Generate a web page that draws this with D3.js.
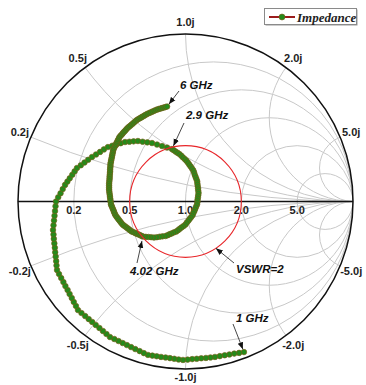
<!DOCTYPE html>
<html>
<head>
<meta charset="utf-8">
<script src="https://cdn.jsdelivr.net/npm/d3@7"></script>
<style>
  body { margin: 0; background: #fff; }
  svg { display: block; }
</style>
</head>
<body>
<div id="plot"></div>
<script>
// measured reflection coefficient, 1 GHz .. 6 GHz in 0.02 GHz steps
const startGHz = 1;
const stepGHz = 0.02;

const gammaRe = [
  0.349, 0.320, 0.291, 0.262, 0.234, 0.205, 0.176,
  0.149, 0.122, 0.094, 0.067, 0.040, 0.013, -0.015,
  -0.041, -0.067, -0.093, -0.119, -0.146, -0.172, -0.198, -0.224,
  -0.249, -0.274, -0.300, -0.325, -0.350, -0.375, -0.400, -0.425, -0.451,
  -0.472, -0.493, -0.514, -0.536, -0.557, -0.578, -0.599, -0.621, -0.642,
  -0.654, -0.667, -0.679, -0.692, -0.704, -0.717, -0.729, -0.742, -0.755, -0.767,
  -0.770, -0.772, -0.775, -0.778, -0.780, -0.783, -0.786, -0.788, -0.791,
  -0.788, -0.785, -0.782, -0.779, -0.776, -0.773,
  -0.760, -0.746, -0.733, -0.719,
  -0.705, -0.691, -0.676, -0.662, -0.648,
  -0.625, -0.603, -0.581, -0.558,
  -0.534, -0.510, -0.487, -0.463,
  -0.437, -0.412, -0.387, -0.361,
  -0.335, -0.310, -0.284,
  -0.256, -0.228, -0.200,
  -0.170, -0.140,
  -0.110, -0.081,
  -0.070, -0.059, -0.048, -0.037,
  -0.026, -0.016, -0.005, 0.005,
  0.014, 0.022, 0.030, 0.038, 0.046,
  0.051, 0.055, 0.060, 0.065, 0.070,
  0.071, 0.073, 0.075, 0.076, 0.078,
  0.076, 0.074, 0.072, 0.071, 0.069,
  0.063, 0.058, 0.053, 0.047, 0.042,
  0.034, 0.025, 0.017, 0.008, 0.000,
  -0.011, -0.022, -0.033, -0.044, -0.055,
  -0.068, -0.081, -0.094, -0.106, -0.119,
  -0.137, -0.154, -0.171, -0.188,
  -0.205, -0.221, -0.237, -0.254,
  -0.263, -0.273, -0.282, -0.292, -0.301, -0.311, -0.321,
  -0.329, -0.336, -0.344, -0.352, -0.360, -0.368, -0.376,
  -0.383, -0.390, -0.397, -0.404, -0.411, -0.418,
  -0.422, -0.426, -0.429, -0.433, -0.437, -0.441, -0.445,
  -0.446, -0.448, -0.449, -0.451, -0.452, -0.454,
  -0.455, -0.456, -0.456, -0.456, -0.456, -0.455, -0.454,
  -0.453, -0.453, -0.452, -0.451, -0.450, -0.450, -0.449, -0.448, -0.448,
  -0.446, -0.444, -0.442, -0.440, -0.438, -0.436, -0.434, -0.432, -0.430,
  -0.425, -0.421, -0.416, -0.412, -0.407, -0.403, -0.398, -0.394,
  -0.387, -0.380, -0.374, -0.367, -0.360, -0.353, -0.346,
  -0.338, -0.330, -0.322, -0.314, -0.306, -0.298, -0.290,
  -0.281, -0.273, -0.264, -0.256, -0.247, -0.239, -0.230,
  -0.220, -0.210, -0.200, -0.190, -0.180, -0.170,
  -0.160, -0.150, -0.140, -0.130, -0.120, -0.110
];

const gammaIm = [
  -0.899, -0.904, -0.908, -0.913, -0.918, -0.923, -0.928,
  -0.931, -0.934, -0.936, -0.939, -0.941, -0.944, -0.946,
  -0.943, -0.939, -0.935, -0.931, -0.928, -0.924, -0.920, -0.916,
  -0.905, -0.893, -0.881, -0.869, -0.857, -0.845, -0.833, -0.821, -0.809,
  -0.791, -0.773, -0.755, -0.737, -0.719, -0.702, -0.684, -0.666, -0.648,
  -0.624, -0.600, -0.576, -0.552, -0.528, -0.505, -0.481, -0.457, -0.433, -0.409,
  -0.382, -0.356, -0.329, -0.303, -0.276, -0.250, -0.223, -0.197, -0.170,
  -0.142, -0.113, -0.085, -0.057, -0.028, 0.000,
  0.025, 0.049, 0.074, 0.099,
  0.119, 0.139, 0.159, 0.180, 0.200,
  0.216, 0.233, 0.249, 0.266,
  0.281, 0.296, 0.311, 0.325,
  0.333, 0.340, 0.348, 0.355,
  0.357, 0.359, 0.361,
  0.357, 0.353, 0.349,
  0.340, 0.331,
  0.322, 0.313,
  0.306, 0.298, 0.291, 0.284,
  0.274, 0.264, 0.254, 0.244,
  0.233, 0.221, 0.210, 0.198, 0.187,
  0.174, 0.160, 0.147, 0.134, 0.120,
  0.106, 0.092, 0.078, 0.065, 0.051,
  0.037, 0.023, 0.010, -0.004, -0.018,
  -0.031, -0.044, -0.057, -0.069, -0.082,
  -0.093, -0.104, -0.115, -0.126, -0.137,
  -0.146, -0.154, -0.162, -0.171, -0.179,
  -0.184, -0.190, -0.195, -0.201, -0.206,
  -0.208, -0.210, -0.213, -0.215,
  -0.213, -0.212, -0.211, -0.209,
  -0.205, -0.200, -0.196, -0.192, -0.188, -0.183, -0.179,
  -0.173, -0.167, -0.161, -0.155, -0.149, -0.143, -0.137,
  -0.128, -0.119, -0.110, -0.101, -0.092, -0.082,
  -0.073, -0.064, -0.055, -0.046, -0.036, -0.027, -0.018,
  -0.006, 0.005, 0.016, 0.028, 0.039, 0.051,
  0.062, 0.073, 0.084, 0.095, 0.106, 0.117, 0.128,
  0.139, 0.149, 0.160, 0.171, 0.181, 0.192, 0.203, 0.213, 0.224,
  0.234, 0.244, 0.254, 0.264, 0.274, 0.284, 0.294, 0.304, 0.313,
  0.322, 0.331, 0.340, 0.349, 0.358, 0.367, 0.376, 0.385,
  0.393, 0.400, 0.408, 0.416, 0.423, 0.431, 0.439,
  0.446, 0.452, 0.459, 0.466, 0.473, 0.480, 0.487,
  0.492, 0.497, 0.502, 0.507, 0.512, 0.517, 0.522,
  0.527, 0.531, 0.536, 0.540, 0.545, 0.549,
  0.552, 0.555, 0.558, 0.561, 0.564, 0.567
];

// grid values and labels
const resistances = [0.2, 0.5, 1.0, 2.0, 5.0];
const resistanceLabels = ["0.2", "0.5", "1.0", "2.0", "5.0"];
const reactances = [0.2, 0.5, 1.0, 2.0, 5.0, -0.2, -0.5, -1.0, -2.0, -5.0];
const reactanceLabels = ["0.2j", "0.5j", "1.0j", "2.0j", "5.0j", "-0.2j", "-0.5j", "-1.0j", "-2.0j", "-5.0j"];
const vswr = 2;
const freqMarks = [1, 2.9, 4.02, 6];
const freqMarkLabels = ["1 GHz", "2.9 GHz", "4.02 GHz", "6 GHz"];

const width = 366, height = 385;
const cx = 185.5, cy = 201.5, R = 167.5;

const x = d3.scaleLinear().domain([-1, 1]).range([cx - R, cx + R]);
const y = d3.scaleLinear().domain([-1, 1]).range([cy + R, cy - R]);
const len = d => d * R;

const svg = d3.select("#plot").append("svg")
    .attr("width", width)
    .attr("height", height);

const defs = svg.append("defs");
defs.append("clipPath").attr("id", "unit")
  .append("circle").attr("cx", x(0)).attr("cy", y(0)).attr("r", len(1));
defs.append("marker")
    .attr("id", "arrow")
    .attr("viewBox", "0 0 10 10")
    .attr("refX", 10).attr("refY", 5)
    .attr("markerUnits", "userSpaceOnUse")
    .attr("markerWidth", 7).attr("markerHeight", 7)
    .attr("orient", "auto")
  .append("path")
    .attr("d", "M0,1L10,5L0,9Z")
    .attr("fill", "#111");

// grid
const grid = svg.append("g")
    .attr("clip-path", "url(#unit)")
    .attr("fill", "none")
    .attr("stroke", "#c8c8c8")
    .attr("stroke-width", 1);

grid.selectAll(".rc")
  .data(resistances)
  .enter().append("circle")
    .attr("cx", r => x(r / (1 + r)))
    .attr("cy", y(0))
    .attr("r", r => len(1 / (1 + r)));

grid.selectAll(".xc")
  .data(reactances)
  .enter().append("circle")
    .attr("cx", x(1))
    .attr("cy", v => y(1 / v))
    .attr("r", v => len(1 / Math.abs(v)));

// real axis and outer circle
svg.append("line")
    .attr("x1", x(-1)).attr("x2", x(1))
    .attr("y1", y(0)).attr("y2", y(0))
    .attr("stroke", "#111").attr("stroke-width", 1.3);
svg.append("circle")
    .attr("cx", x(0)).attr("cy", y(0)).attr("r", len(1))
    .attr("fill", "none").attr("stroke", "#111").attr("stroke-width", 1.5);

// labels
const labelFont = "'Liberation Sans', Arial, sans-serif";
svg.append("g").selectAll("text")
  .data(resistances)
  .enter().append("text")
    .attr("x", r => x((r - 1) / (r + 1)))
    .attr("y", y(0) + 12)
    .attr("text-anchor", "middle")
    .style("font", `bold 11px ${labelFont}`)
    .attr("fill", "#222")
    .text((r, i) => resistanceLabels[i]);

svg.append("g").selectAll("text")
  .data(reactances)
  .enter().append("text")
    .attr("x", v => {
      const a = Math.PI - 2 * Math.atan(v);
      return cx + (R + 12) * Math.cos(a);
    })
    .attr("y", v => {
      const a = Math.PI - 2 * Math.atan(v);
      return Math.min(cy - (R + 12) * Math.sin(a) + 4, height - 4);
    })
    .attr("text-anchor", "middle")
    .style("font", `bold 11px ${labelFont}`)
    .attr("fill", "#222")
    .text((v, i) => reactanceLabels[i]);

// impedance curve
const idx = d3.range(gammaRe.length);
const line = d3.line()
    .x(i => x(gammaRe[i]))
    .y(i => y(gammaIm[i]));

svg.append("path")
    .datum(idx)
    .attr("d", line)
    .attr("fill", "none")
    .attr("stroke", "#9b1c1c")
    .attr("stroke-width", 1.5);

svg.append("g").selectAll("circle")
  .data(idx)
  .enter().append("circle")
    .attr("cx", i => x(gammaRe[i]))
    .attr("cy", i => y(gammaIm[i]))
    .attr("r", 2.8)
    .attr("fill", "#258a1a")
    .attr("stroke", "#7d5a18")
    .attr("stroke-width", 0.6);

// VSWR circle
const gVswr = (vswr - 1) / (vswr + 1);
svg.append("circle")
    .attr("cx", x(0)).attr("cy", y(0)).attr("r", len(gVswr))
    .attr("fill", "none").attr("stroke", "#e8262a").attr("stroke-width", 1.1);

// annotations
const noteFont = `italic bold 11.5px ${labelFont}`;
const notePos = [
  { tx: 236, ty: 322, ax: 233, ay: 324, gap: 3 },
  { tx: 186, ty: 119, ax: 184, ay: 123, gap: 3.5 },
  { tx: 130, ty: 275, ax: 137, ay: 263, gap: 4.5 },
  { tx: 180, ty: 89, ax: 179, ay: 91, gap: 3 }
];

freqMarks.forEach((f, k) => {
  const i = Math.round((f - startGHz) / stepGHz);
  const px = x(gammaRe[i]), py = y(gammaIm[i]);
  const p = notePos[k];
  const dx = p.ax - px, dy = p.ay - py, d = Math.hypot(dx, dy);
  svg.append("line")
      .attr("x1", p.ax).attr("y1", p.ay)
      .attr("x2", px + dx / d * p.gap).attr("y2", py + dy / d * p.gap)
      .attr("stroke", "#333").attr("stroke-width", 0.9)
      .attr("marker-end", "url(#arrow)");
  svg.append("text")
      .attr("x", p.tx).attr("y", p.ty)
      .style("font", noteFont)
      .attr("fill", "#111")
      .text(freqMarkLabels[k]);
});

const va = -57 * Math.PI / 180;
svg.append("line")
    .attr("x1", 234).attr("y1", 263)
    .attr("x2", x(gVswr * Math.cos(va))).attr("y2", y(gVswr * Math.sin(va)))
    .attr("stroke", "#333").attr("stroke-width", 0.9)
    .attr("marker-end", "url(#arrow)");
svg.append("text")
    .attr("x", 236).attr("y", 273)
    .style("font", noteFont)
    .attr("fill", "#111")
    .text("VSWR=" + vswr);

// legend
const lg = svg.append("g");
lg.append("rect")
    .attr("x", 265.5).attr("y", 9.5).attr("width", 92).attr("height", 16)
    .attr("fill", "#9a9a9a");
lg.append("rect")
    .attr("x", 264.5).attr("y", 8.5).attr("width", 92).attr("height", 16)
    .attr("fill", "#fff").attr("stroke", "#8a8a8a").attr("stroke-width", 1);
lg.append("line")
    .attr("x1", 269).attr("x2", 295).attr("y1", 17).attr("y2", 17)
    .attr("stroke", "#9b1c1c").attr("stroke-width", 2);
lg.append("circle")
    .attr("cx", 282).attr("cy", 17).attr("r", 3)
    .attr("fill", "#258a1a").attr("stroke", "#7d5a18").attr("stroke-width", 0.6);
lg.append("text")
    .attr("x", 297).attr("y", 21.5)
    .style("font", "italic bold 13px 'Liberation Serif', 'Times New Roman', serif")
    .attr("fill", "#222")
    .text("Impedance");
</script>
</body>
</html>
